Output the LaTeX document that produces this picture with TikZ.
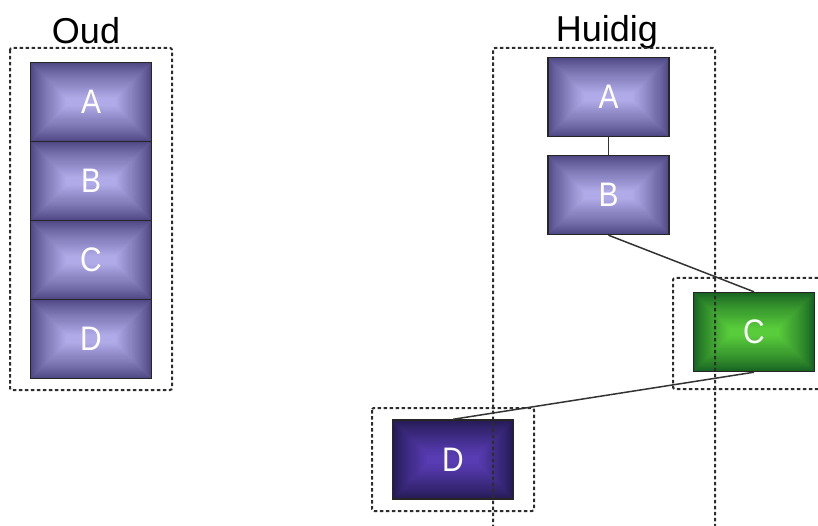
\documentclass[tikz,border=0pt]{standalone}
\usepackage{fontspec}
\setmainfont{Liberation Sans}
\newfontfamily\tilefont[FakeStretch=0.88]{Liberation Sans}
\usetikzlibrary{calc}

\definecolor{lilacEdge}{RGB}{78,72,132}
\definecolor{lilacCore}{RGB}{176,170,232}
\definecolor{greenEdge}{RGB}{24,100,34}
\definecolor{greenCore}{RGB}{88,204,58}
\definecolor{indigoEdge}{RGB}{36,26,82}
\definecolor{indigoCore}{RGB}{88,60,180}
\definecolor{frameGray}{RGB}{45,45,45}

\tikzset{
  tile/.style n args={2}{
    draw=black!85, line width=1.4pt,
    minimum width=121pt, minimum height=79pt, inner sep=0pt,
    text=white, font=\tilefont\fontsize{34}{38}\selectfont,
    path picture={
      \foreach \i in {0,...,34}{
        \pgfmathsetmacro\p{100*(\i/34)^0.85}
        \fill[#2!\p!#1]
          ($(path picture bounding box.south west)+(\i*1.05pt,\i*1.05pt)$)
          rectangle
          ($(path picture bounding box.north east)-(\i*1.05pt,\i*1.05pt)$);
      }
    }
  },
  lilac/.style={tile={lilacEdge}{lilacCore}},
  greentile/.style={tile={greenEdge}{greenCore}},
  indigo/.style={tile={indigoEdge}{indigoCore}},
  group/.style={draw=frameGray, line width=2pt, dash pattern=on 3.5pt off 2.5pt, rounded corners=2pt},
  link/.style={draw=black!80, line width=1.5pt},
  title/.style={anchor=base, font=\fontsize{36}{40}\selectfont, inner sep=0pt}
}

\begin{document}
\begin{tikzpicture}[x=1pt, y=-1pt]
\useasboundingbox (0,0) rectangle (818,526);
\clip (0,0) rectangle (818,526);

% titles
\node[title] (oudT) at (86,44) {Oud};
\node[title] (huiT) at (607,42) {Huidig};

% old stack
\node[lilac] (oA) at (91,102) {A};
\node[lilac] (oB) at (91,181) {B};
\node[lilac] (oC) at (91,260) {C};
\node[lilac] (oD) at (91,339) {D};

% current layout
\node[lilac] (hA) at (608.5,97) {A};
\node[lilac] (hB) at (608.5,195) {B};
\node[greentile] (hC) at (754,332) {C};
\node[indigo] (hD) at (453,459.5) {D};

% dashed groupings
\draw[group] (10,48) rectangle (172,390);
\draw[group] (493,540) -- (493,48) -- (715,48) -- (715,540);
\draw[group] (830,278) -- (673,278) -- (673,389) -- (830,389);
\draw[group] (372,408) rectangle (534,511);

% connectors
\draw[link] (hA.south) -- (hB.north);
\draw[link] (hB.south) -- (hC.north);
\draw[link] (hC.south) -- (hD.north);
\end{tikzpicture}
\end{document}
